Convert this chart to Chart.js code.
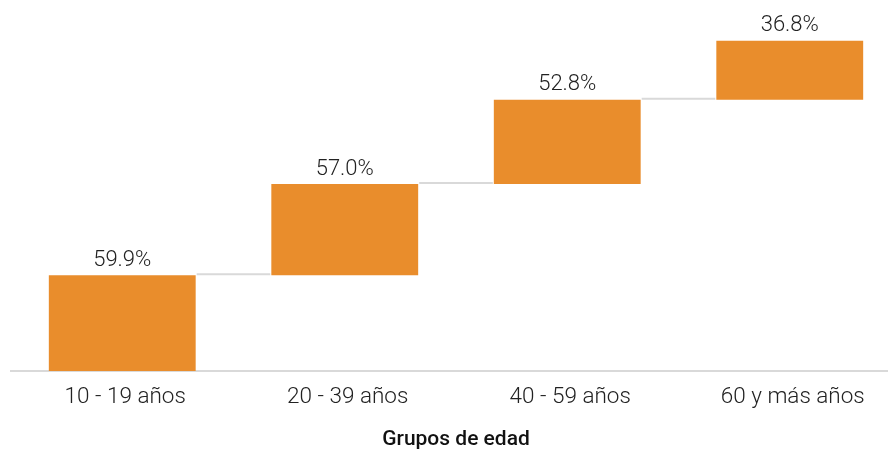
<!DOCTYPE html>
<html>
<head>
<meta charset="utf-8">
<script src="https://cdn.jsdelivr.net/npm/chart.js@4/dist/chart.umd.min.js"></script>
<style>
  html, body { margin: 0; padding: 0; background: #fff; overflow: hidden; }
  #wrap { position: relative; width: 901px; height: 450px; }
</style>
</head>
<body>
<div id="wrap"><canvas id="chart"></canvas></div>
<script>
// Age groups and the share for each one (bars float, each starting where the previous ends)
const categories = ['10 - 19 años', '20 - 39 años', '40 - 59 años', '60 y más años']
const values = [59.9, 57.0, 52.8, 36.8]
const axisTitle = 'Grupos de edad'

const barColor = '#E98D2C'
const lineColor = '#D9D9D9'

// build [start, end] pairs from the running total
const ranges = []
let running = 0
values.forEach(v => {
  ranges.push([running, running + v])
  running += v
})

// thin step lines joining the top of one bar to the bottom of the next
const connectors = {
  id: 'connectors',
  beforeDatasetsDraw(chart) {
    const { ctx } = chart
    const meta = chart.getDatasetMeta(0)
    const y = chart.scales.y
    ctx.save()
    ctx.strokeStyle = lineColor
    ctx.lineWidth = 2
    for (let i = 0; i < meta.data.length - 1; i++) {
      const a = meta.data[i]
      const b = meta.data[i + 1]
      const yy = y.getPixelForValue(ranges[i][1]) - 1
      ctx.beginPath()
      ctx.moveTo(a.x + a.width / 2 + 1, yy)
      ctx.lineTo(b.x - b.width / 2 - 1, yy)
      ctx.stroke()
    }
    ctx.restore()
  }
}

// percentage above each bar
const valueLabels = {
  id: 'valueLabels',
  afterDatasetsDraw(chart) {
    const { ctx } = chart
    const meta = chart.getDatasetMeta(0)
    ctx.save()
    ctx.font = '300 22px Roboto'
    ctx.fillStyle = '#222'
    ctx.textAlign = 'center'
    ctx.textBaseline = 'bottom'
    meta.data.forEach((bar, i) => {
      ctx.fillText(values[i].toFixed(1) + '%', bar.x, bar.y - 4)
    })
    ctx.restore()
  }
}

new Chart(document.getElementById('chart'), {
  type: 'bar',
  data: {
    labels: categories,
    datasets: [{
      data: ranges,
      backgroundColor: barColor,
      borderWidth: 0,
      borderSkipped: false,
      categoryPercentage: 1,
      barPercentage: 0.66
    }]
  },
  options: {
    responsive: true,
    maintainAspectRatio: false,
    animation: false,
    layout: { padding: { left: 11, right: 0, top: 0, bottom: 0 } },
    plugins: {
      legend: { display: false },
      tooltip: { enabled: false }
    },
    scales: {
      x: {
        grid: { display: false, drawTicks: false },
        border: { display: true, color: lineColor, width: 2 },
        ticks: {
          color: '#222',
          padding: 13,
          labelOffset: 3,
          font: { family: 'Roboto', size: 22.5, weight: 300 }
        },
        title: {
          display: true,
          text: axisTitle,
          color: '#111',
          padding: { top: 6, bottom: 0 },
          font: { family: 'Roboto', size: 21, weight: 500, lineHeight: 0.95 }
        }
      },
      y: {
        display: false,
        min: 0,
        max: 232
      }
    }
  },
  plugins: [connectors, valueLabels]
})
</script>
</body>
</html>
